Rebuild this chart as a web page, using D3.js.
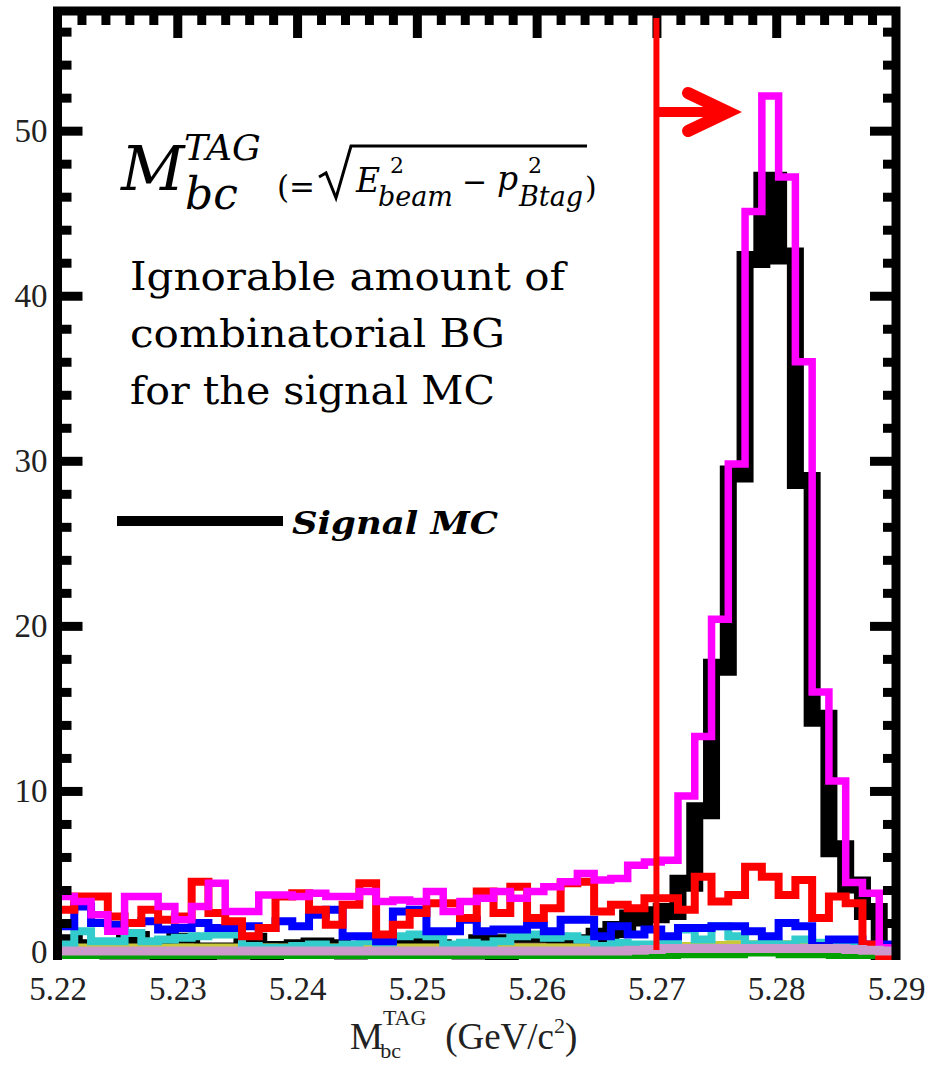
<!DOCTYPE html>
<html>
<head>
<meta charset="utf-8">
<script src="https://cdn.jsdelivr.net/npm/d3@7"></script>
<style>
  body { margin: 0; background: #fff; }
  svg { display: block; }
</style>
</head>
<body>
<svg id="chart" width="926" height="1067"></svg>
<script>
// ---- data -------------------------------------------------------------
// 50 bins of 1.4 MeV between 5.22 and 5.29 GeV/c^2
const xMin = 5.22, xMax = 5.29, nBins = 50;
const xTicks = [5.22, 5.23, 5.24, 5.25, 5.26, 5.27, 5.28, 5.29];
const yTicks = [0, 10, 20, 30, 40, 50];
const cutValue = 5.27;

const signalMC = [0.8,0.4,0.5,0.3,1.0,0.3,0.2,0.9,0.2,0.3, 0.3,0.9,0.2,0.4,0.5,0.6,0.5,0.3,0.4,0.5,
                  0.4,0.6,0.5,0.4,0.3,0.8,0.2,0.8,0.9,0.9, 0.6,0.8,1.2,1.6,2.3,2.5,2.7,4.4,8.8,17.5,
                  29.2,42.2,47.0,42.4,28.8,14.4,6.5,4.3,2.7,0.0];
const histMagenta = [3.6,3.3,2.5,1.5,3.6,3.6,3.0,2.2,3.0,4.4, 2.7,2.7,3.7,3.7,3.6,3.8,3.6,3.6,3.9,3.3,
                     3.4,3.3,3.9,2.7,3.3,3.5,3.9,3.5,3.9,4.2, 4.5,5.0,4.6,4.7,5.5,5.7,5.8,9.7,13.3,20.4,
                     29.8,45.1,52.1,47.2,36.0,16.0,10.6,4.45,3.8,0.5];
const histRed = [2.8,3.6,3.6,2.4,2.0,2.8,2.2,2.4,4.5,2.6, 2.1,1.2,1.7,3.6,3.8,2.8,1.9,3.1,4.4,1.3,
                 1.9,2.6,3.2,3.2,2.3,3.9,2.6,4.2,2.3,2.9, 4.4,4.5,2.7,3.1,2.9,3.5,3.5,2.8,4.8,3.3,
                 3.7,5.4,4.8,3.7,4.6,2.3,3.6,3.2,0.7,0.0];
const histBlue = [1.8,3.0,2.0,1.9,2.0,2.1,1.6,1.7,2.0,1.7, 1.7,1.8,1.7,2.1,1.8,2.5,2.8,1.2,1.2,0.9,
                  2.7,2.8,1.5,1.5,2.2,1.5,1.6,1.6,1.9,1.5, 2.2,2.2,1.2,1.8,1.3,1.6,1.2,1.7,1.7,1.8,
                  1.8,1.5,1.2,2.0,1.8,0.6,1.0,1.0,0.7,0.7];
const histCyan = [0.7,1.5,0.9,0.9,1.4,0.9,1.0,1.1,1.2,1.3, 1.3,0.6,0.5,0.5,0.6,0.7,0.5,0.7,0.9,0.8,
                  1.2,1.3,1.2,0.7,0.8,0.7,0.9,1.2,1.3,1.1, 1.2,1.0,0.6,0.8,0.7,0.7,0.8,1.6,1.0,1.8,
                  1.2,0.7,0.8,0.7,1.0,0.8,0.6,0.6,0.6,0.5];
const histOlive = [0.6,0.6,0.6,0.6,0.6,0.6,0.6,0.6,0.6,0.6, 0.6,0.6,0.6,0.6,0.6,0.6,0.6,0.6,0.6,0.6,
                   0.6,0.6,0.6,0.6,0.6,0.6,0.6,0.6,0.6,0.6, 0.6,0.6,0.6,0.6,0.6,0.6,0.7,0.7,0.75,0.75,
                   0.8,0.8,0.85,0.8,0.75,0.7,0.7,0.6,0.6,0.6];
const histBrown = [0.55,0.55,0.6,0.6,0.55,0.5,0.55,0.6,0.55,0.5, 0.55,0.6,0.6,0.55,0.5,0.55,0.55,0.6,0.65,0.6,
                   0.55,0.5,0.55,0.6,0.6,0.55,0.6,0.65,0.65,0.6, 0.6,0.65,0.6,0.6,0.55,0.5,0.5,0.5,0.5,0.5,
                   0.5,0.5,0.5,0.5,0.5,0.5,0.5,0.5,0.5,0.5];
const histGreen = [0,0,0,0,0,0,0,0,0,0, 0,0,0,0,0,0,0,0,0,0,
                   0,0,0,0,0,0,0,0,0,0, 0,0,0,0,0,0,0,0.05,0.05,0.05,
                   0.05,0.15,0.15,0.05,0.05,0.05,0,0,0,0];
const histLilac = [0.3,0.3,0.3,0.3,0.3,0.3,0.3,0.3,0.3,0.3, 0.3,0.3,0.3,0.3,0.3,0.3,0.3,0.3,0.3,0.3,
                   0.3,0.3,0.3,0.3,0.3,0.3,0.3,0.3,0.3,0.3, 0.3,0.3,0.3,0.3,0.35,0.4,0.45,0.45,0.45,0.45,
                   0.45,0.45,0.45,0.45,0.45,0.45,0.45,0.4,0.35,0.3];

const noteLines = ["Ignorable amount of", "combinatorial BG", "for the signal MC"];
const noteWidths = [435, 375, 365];

// ---- layout -----------------------------------------------------------
const svg = d3.select("#chart");
const x = d3.scaleLinear().domain([xMin, xMax]).range([57.5, 896]);
const y = d3.scaleLinear().domain([0, 57.25]).range([956, 11]);
const binW = (xMax - xMin) / nBins;
const edges = d3.range(nBins + 1).map(i => xMin + i * binW);

svg.append("defs").append("clipPath").attr("id", "plotClip")
  .append("rect").attr("x", x(xMin)).attr("y", y.range()[1])
  .attr("width", x(xMax) - x(xMin)).attr("height", 960 - y.range()[1]);

const step = d3.line()
  .x(d => x(d[0])).y(d => y(d[1]))
  .curve(d3.curveStepAfter);

function histPoints(values) {
  const pts = values.map((v, i) => [edges[i], v]);
  pts.push([edges[nBins], values[nBins - 1]]);
  return pts;
}

const hists = [
  { values: signalMC,    color: "#000000", width: 17 },
  { values: histGreen,   color: "#00a000", width: 6 },
  { values: histBrown,   color: "#9a6a5a", width: 5 },
  { values: histOlive,   color: "#c8c83a", width: 5 },
  { values: histCyan,    color: "#33cccc", width: 8 },
  { values: histBlue,    color: "#0000ff", width: 8 },
  { values: histRed,     color: "#ff0000", width: 8 },
  { values: histMagenta, color: "#ff00ff", width: 7.5 },
  { values: histLilac,   color: "#cc99cc", width: 9 }
];

const plot = svg.append("g").attr("clip-path", "url(#plotClip)");
plot.selectAll("path.hist").data(hists).join("path")
  .attr("class", "hist")
  .attr("d", d => step(histPoints(d.values)))
  .attr("fill", "none")
  .attr("stroke", d => d.color)
  .attr("stroke-width", d => d.width)
  .attr("stroke-linejoin", "miter")
  .attr("stroke-linecap", "butt");

// ---- frame and ticks ---------------------------------------------------
const x0 = x(xMin), x1 = x(xMax), yTop = y(57.25), yBot = y(0);
svg.append("path")
  .attr("d", `M${x0},${yBot + 4} L${x0},${yTop} L${x1},${yTop} L${x1},${yBot + 4}`)
  .attr("fill", "none").attr("stroke", "#000").attr("stroke-width", 9)
  .attr("stroke-linejoin", "miter");

const yMinor = d3.range(2, 57, 2).filter(v => v % 10 !== 0);
const xMinor = d3.range(0, 36).map(i => +(xMin + i * 0.002).toFixed(3))
  .filter(v => !xTicks.some(t => Math.abs(t - v) < 1e-6));

function styleTicks(g) {
  g.select(".domain").remove();
  g.selectAll(".tick line").attr("stroke", "#000").attr("stroke-width", 9);
}

// left
svg.append("g").attr("transform", `translate(${x0},0)`)
  .call(d3.axisLeft(y).tickValues(yMinor).tickSize(-14).tickFormat(""))
  .call(styleTicks);
const leftAxis = svg.append("g").attr("transform", `translate(${x0},0)`)
  .call(d3.axisLeft(y).tickValues(yTicks).tickSize(-25).tickPadding(10).tickFormat(d3.format("d")))
  .call(styleTicks);
leftAxis.selectAll("text")
  .attr("font-family", "'Liberation Serif', serif").attr("font-size", 33).attr("fill", "#222");
leftAxis.selectAll(".tick").filter(d => d === 0).select("line").remove();
leftAxis.selectAll(".tick").filter(d => d === 0).select("text").attr("dy", "0.2em");

// right
svg.append("g").attr("transform", `translate(${x1},0)`)
  .call(d3.axisRight(y).tickValues(yMinor).tickSize(-13).tickFormat(""))
  .call(styleTicks);
svg.append("g").attr("transform", `translate(${x1},0)`)
  .call(d3.axisRight(y).tickValues(yTicks.filter(v => v > 0)).tickSize(-26).tickFormat(""))
  .call(styleTicks);

// top
svg.append("g").attr("transform", `translate(0,${yTop})`)
  .call(d3.axisTop(x).tickValues(xMinor).tickSize(-14).tickFormat(""))
  .call(styleTicks);
svg.append("g").attr("transform", `translate(0,${yTop})`)
  .call(d3.axisTop(x).tickValues(xTicks.slice(1, -1)).tickSize(-27).tickFormat(""))
  .call(styleTicks);

// bottom labels
const bottomAxis = svg.append("g").attr("transform", `translate(0,${yBot})`)
  .call(d3.axisBottom(x).tickValues(xTicks).tickSize(0).tickPadding(21).tickFormat(d3.format(".2f")));
bottomAxis.select(".domain").remove();
bottomAxis.selectAll("text")
  .attr("font-family", "'Liberation Serif', serif").attr("font-size", 33).attr("fill", "#222");

// x axis title
const xt = svg.append("text").attr("x", 350).attr("y", 1049)
  .attr("font-family", "'Liberation Serif', serif").attr("font-size", 37).attr("fill", "#222");
xt.append("tspan").text("M");
xt.append("tspan").attr("font-size", 22).attr("dy", -24).text("TAG");
xt.append("tspan").attr("font-size", 22).attr("dx", -46).attr("dy", 33).text("bc");
xt.append("tspan").attr("dx", 44).attr("dy", -9).text("(GeV/c");
xt.append("tspan").attr("font-size", 22).attr("dy", -16).text("2");
xt.append("tspan").attr("dy", 16).text(")");

// ---- cut line and arrow -------------------------------------------------
const xc = x(cutValue);
svg.append("line").attr("x1", xc).attr("x2", xc).attr("y1", 18).attr("y2", 950)
  .attr("stroke", "#ff0000").attr("stroke-width", 6);
svg.append("line").attr("x1", xc).attr("x2", 722).attr("y1", 112).attr("y2", 112)
  .attr("stroke", "#ff0000").attr("stroke-width", 10);
svg.append("path").attr("d", "M688,93 L728,112 L688,131")
  .attr("fill", "none").attr("stroke", "#ff0000").attr("stroke-width", 12)
  .attr("stroke-linecap", "round").attr("stroke-linejoin", "miter");

// ---- annotations ---------------------------------------------------------
const mathFont = "'DejaVu Serif', serif";
function txt(xp, yp, s, size, opts = {}) {
  return svg.append("text").attr("x", xp).attr("y", yp).text(s)
    .attr("font-family", opts.family || mathFont).attr("font-size", size)
    .attr("font-style", opts.style || "italic").attr("font-weight", opts.weight || "normal")
    .attr("fill", "#000");
}
txt(121, 190, "M", 62);
txt(184, 160, "TAG", 36);
txt(185, 209, "bc", 44);
txt(277, 198, "(=", 31, { style: "normal" });
// square root sign with overline
svg.append("path").attr("d", "M319,177 L326,173 L336,198 L351,146 L587,146")
  .attr("fill", "none").attr("stroke", "#000").attr("stroke-width", 3);
txt(356, 192, "E", 33);
txt(390, 173, "2", 22, { style: "normal" });
txt(378, 206, "beam", 27);
txt(462, 192, "\u2212", 30, { style: "normal" });
txt(497, 190, "p", 33);
txt(528, 173, "2", 22, { style: "normal" });
txt(519, 206, "Btag", 27);
txt(585, 198, ")", 30, { style: "normal" });

svg.append("g").selectAll("text").data(noteLines).join("text")
  .attr("x", 130).attr("y", (d, i) => 290 + i * 57)
  .attr("font-family", mathFont).attr("font-size", 39).attr("fill", "#000")
  .attr("textLength", (d, i) => noteWidths[i]).attr("lengthAdjust", "spacingAndGlyphs")
  .text(d => d);

// legend
svg.append("line").attr("x1", 117).attr("x2", 283).attr("y1", 521).attr("y2", 521)
  .attr("stroke", "#000").attr("stroke-width", 10);
svg.append("text").attr("x", 292).attr("y", 534).text("Signal MC")
  .attr("font-family", "'DejaVu Serif', serif").attr("font-size", 32)
  .attr("font-style", "italic").attr("font-weight", "bold")
  .attr("textLength", 206).attr("lengthAdjust", "spacingAndGlyphs");
</script>
</body>
</html>
